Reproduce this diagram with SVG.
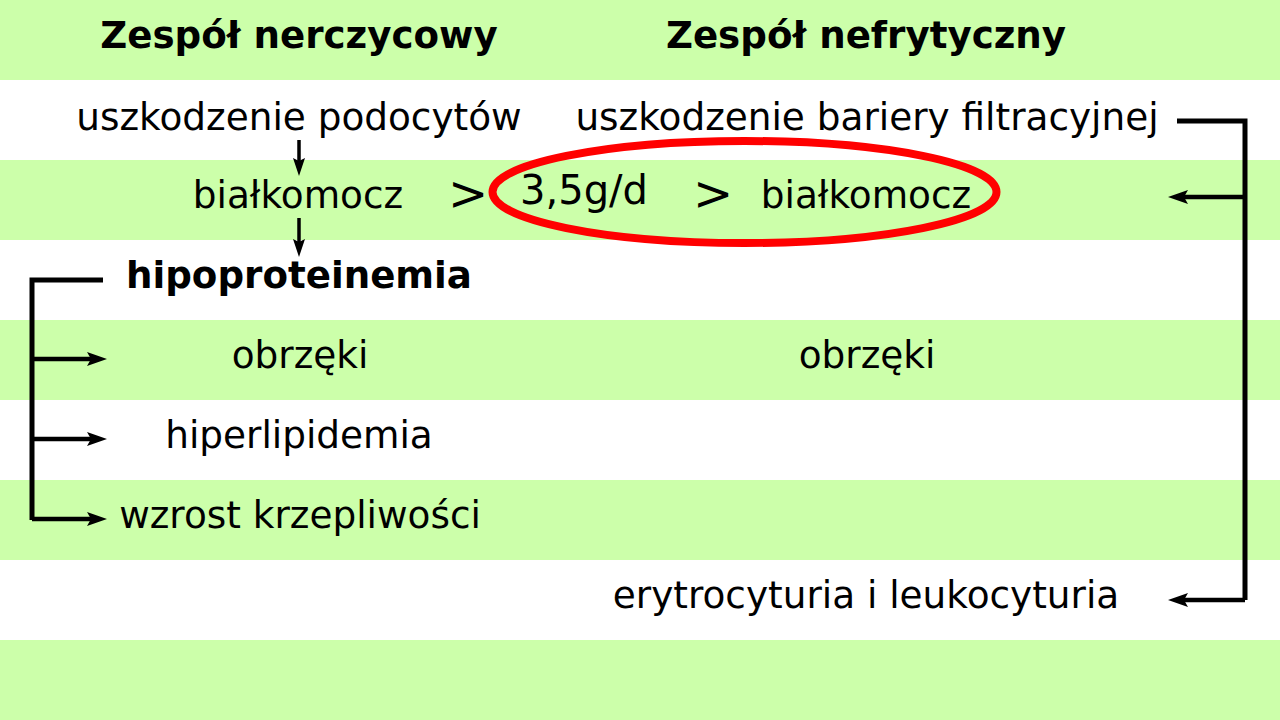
<svg xmlns="http://www.w3.org/2000/svg" width="1280" height="720" viewBox="0 0 1280 720">
<defs>
<marker id="ah" viewBox="0 0 20 14" refX="10" refY="7" markerWidth="20" markerHeight="14" markerUnits="userSpaceOnUse" orient="auto">
<path d="M0,0 L20,7 L0,14 L4,7 Z" fill="#000"/>
</marker>
<marker id="av" viewBox="0 0 18 12" refX="9" refY="6" markerWidth="18" markerHeight="12" markerUnits="userSpaceOnUse" orient="auto">
<path d="M0,0 L18,6 L0,12 L3,6 Z" fill="#000"/>
</marker>
<style>
.band{fill:#ccffaa}
.t{font-family:"DejaVu Sans",sans-serif;font-size:37.4px;fill:#000;text-anchor:middle}
.h{font-family:"DejaVu Sans",sans-serif;font-size:37.2px;font-weight:bold;fill:#000;text-anchor:middle}
.g{font-family:"DejaVu Sans",sans-serif;font-size:48px;fill:#000;text-anchor:middle}
.c{fill:none;stroke:#000;stroke-width:5}
.a{fill:none;stroke:#000;stroke-width:4.5;marker-end:url(#ah)}
.v{fill:none;stroke:#000;stroke-width:3.5;marker-end:url(#av)}
</style>
</defs>
<rect x="0" y="0" width="1280" height="720" fill="#fff"/>
<g id="bands">
<rect class="band" x="0" y="0" width="1280" height="80"/>
<rect class="band" x="0" y="160" width="1280" height="80"/>
<rect class="band" x="0" y="320" width="1280" height="80"/>
<rect class="band" x="0" y="480" width="1280" height="80"/>
<rect class="band" x="0" y="640" width="1280" height="80"/>
</g>
<g id="header-left"><text class="h" x="299" y="48">Zespół nerczycowy</text></g>
<g id="header-right"><text class="h" x="866" y="48">Zespół nefrytyczny</text></g>
<g id="n-podocyty"><text class="t" x="299" y="130">uszkodzenie podocytów</text></g>
<g id="n-bialkomocz-l"><text class="t" x="298" y="208">białkomocz</text></g>
<g id="n-hipoproteinemia"><text class="h" x="299" y="288">hipoproteinemia</text></g>
<g id="n-obrzeki-l"><text class="t" x="300" y="368">obrzęki</text></g>
<g id="n-hiperlipidemia"><text class="t" x="299" y="448">hiperlipidemia</text></g>
<g id="n-krzepliwosc"><text class="t" x="300" y="528">wzrost krzepliwości</text></g>
<g id="n-bariera"><text class="t" x="867" y="130">uszkodzenie bariery filtracyjnej</text></g>
<g id="n-gt1"><text class="g" x="468" y="210">&gt;</text></g>
<g id="n-35"><text class="t" x="584" y="204" style="font-size:40px">3,5g/d</text></g>
<g id="n-gt2"><text class="g" x="713" y="210">&gt;</text></g>
<g id="n-bialkomocz-r"><text class="t" x="866" y="208">białkomocz</text></g>
<g id="n-obrzeki-r"><text class="t" x="867" y="368">obrzęki</text></g>
<g id="n-erytro"><text class="t" x="866" y="608">erytrocyturia i leukocyturia</text></g>
<g id="highlight"><ellipse cx="744.5" cy="192" rx="252" ry="51" fill="none" stroke="#ff0000" stroke-width="8"/></g>
<g id="connectors">
<path class="v" d="M299,140 V167"/>
<path class="v" d="M299,218 V248"/>
<path class="c" d="M103,280 H32 V520"/>
<path class="a" d="M32,359 H97"/>
<path class="a" d="M32,439 H97"/>
<path class="a" d="M32,519 H97"/>
<path class="c" d="M1177,121 H1245 V600"/>
<path class="a" d="M1245,197 H1178"/>
<path class="a" d="M1245,600 H1178"/>
</g>
</svg>
